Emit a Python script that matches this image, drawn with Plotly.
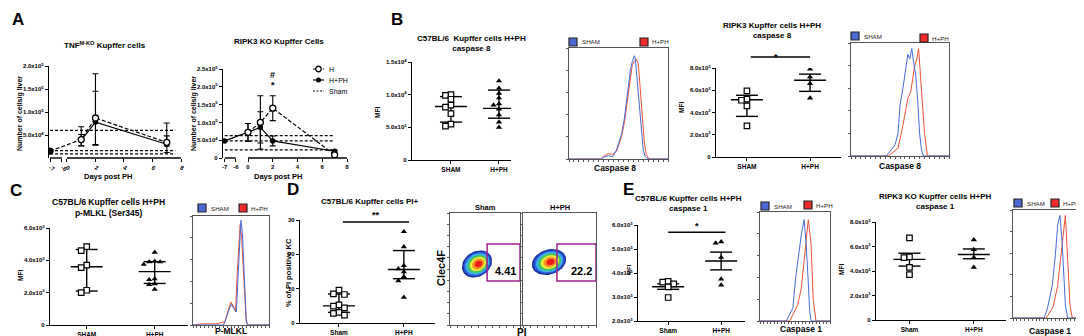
import math
import plotly.graph_objects as go

W, H = 1084, 336
FONT = "Liberation Sans, Arial, sans-serif"

# ---------------- data ----------------
# Panel A - TNF M-KO Kupffer cells (number of cells / g liver)
tnf_days_H = [-7, 1, 2, 7]
tnf_H = [1.5e4, 4.0e4, 8.7e4, 3.4e4]
tnf_H_err_plus = [0, 2.8e4, 5.8e4, 4.2e4]
tnf_H_err_minus = [0, 1.4e4, 5.8e4, 0.8e4]
tnf_days_PH = [1, 2, 7]
tnf_PH = [3.9e4, 7.8e4, 3.0e4]
tnf_PH_err_plus = [1.2e4, 1.05e5, 1.8e4]
tnf_PH_err_minus = [1.2e4, 5.0e4, 1.8e4]
tnf_sham = [6.0e4, 1.6e4, 0.9e4]

# Panel A - RIPK3 KO Kupffer cells
rip_days_H = [0, 1, 2, 7]
rip_H = [7.2e4, 1.0e5, 1.4e5, 0.9e4]
rip_H_err = [2.5e4, 7.5e4, 3.5e4, 0.3e4]
rip_days_PH = [-7, 0, 1, 2, 7]
rip_PH = [4.8e4, 7.2e4, 8.6e4, 4.8e4, 1.9e4]
rip_PH_err = [0, 2.5e4, 4.4e4, 1.4e4, 0.3e4]
rip_sham = [6.3e4, 4.8e4, 2.3e4]

days_ticks = [-7, -6, 0, 2, 4, 6, 8]

# Scatter panels: values, and (centre, upper, lower) of the summary bars
b1_sham = [10.0e3, 9.9e3, 9.3e3, 8.4e3, 8.1e3, 7.1e3, 5.5e3, 5.2e3]
b1_ph = [12.1e3, 11.0e3, 10.2e3, 9.5e3, 8.6e3, 8.4e3, 7.8e3, 6.9e3, 5.8e3, 5.0e3]
b1_stats = [(8.2e3, 9.7e3, 5.8e3), (7.9e3, 10.7e3, 6.4e3)]

b2_sham = [5.95e3, 5.2e3, 5.1e3, 4.6e3, 2.8e3]
b2_ph = [7.9e3, 7.2e3, 6.6e3, 5.3e3]
b2_stats = [(5.15e3, 5.55e3, 3.65e3), (6.9e3, 7.45e3, 5.9e3)]

c_sham = [4.85e3, 4.6e3, 3.7e3, 3.55e3, 2.15e3, 2.0e3]
c_ph = [4.5e3, 3.95e3, 3.9e3, 3.9e3, 3.75e3, 2.85e3, 2.8e3, 2.55e3, 2.5e3, 2.2e3]
c_stats = [(3.6e3, 4.67e3, 2.1e3), (3.3e3, 3.92e3, 2.57e3)]

d_sham = [9.6, 8.5, 8.3, 5.3, 4.9, 4.4, 3.1, 2.8, 2.3]
d_ph = [26.6, 22.2, 16.7, 15.8, 14.9, 13.5, 12.3, 7.5]
d_stats = [(5.0, 8.45, 3.1), (15.6, 21.1, 12.9)]

e1_sham = [3.65e3, 3.62e3, 3.55e3, 3.42e3, 2.98e3]
e1_ph = [5.3e3, 5.25e3, 4.65e3, 3.75e3, 3.5e3]
e1_stats = [(3.43e3, 3.55e3, 3.32e3), (4.5e3, 4.87e3, 4.13e3)]

e2_sham = [6.7e3, 5.15e3, 5.1e3, 4.3e3, 3.7e3]
e2_ph = [6.55e3, 5.75e3, 5.1e3, 4.3e3]
e2_stats = [(4.95e3, 5.45e3, 4.4e3), (5.35e3, 5.8e3, 5.0e3)]

# Histogram overlays (channel position 0-100, normalised count)
hb1_sham_x = [0, 32, 36, 40, 44, 48, 50, 53, 56, 59, 62, 64, 66, 67, 69, 71, 73, 75, 77, 80, 100]
hb1_sham_y = [0, 0, 0.02, 0.03, 0.02, 0.08, 0.14, 0.22, 0.37, 0.58, 0.8, 0.88, 0.93, 0.9, 0.7, 0.45, 0.25, 0.08, 0.02, 0, 0]
hb1_ph_x = [0, 32, 36, 40, 44, 48, 50, 53, 56, 59, 62, 64, 66, 68, 70, 72, 74, 76, 78, 81, 100]
hb1_ph_y = [0, 0, 0.03, 0.05, 0.04, 0.07, 0.12, 0.2, 0.33, 0.52, 0.75, 0.85, 0.88, 0.9, 0.86, 0.65, 0.42, 0.16, 0.04, 0, 0]

hb2_sham_x = [0, 36, 38, 45, 48, 50, 53, 55, 58, 60, 62, 64, 66, 68, 70, 72, 74, 100]
hb2_sham_y = [0, 0, 0.02, 0.1, 0.2, 0.45, 0.6, 0.72, 0.9, 0.86, 0.95, 0.82, 0.72, 0.5, 0.2, 0.05, 0, 0]
hb2_ph_x = [0, 38, 41, 48, 53, 58, 61, 65, 67, 69, 71, 73, 75, 78, 100]
hb2_ph_y = [0, 0, 0.02, 0.07, 0.27, 0.51, 0.57, 0.8, 0.85, 0.95, 0.7, 0.45, 0.2, 0, 0]

hc_sham_x = [0, 40, 42, 46, 50, 54, 57, 59, 62, 63, 65, 66, 68, 70, 72, 100]
hc_sham_y = [0, 0, 0.03, 0.12, 0.19, 0.15, 0.12, 0.4, 0.75, 0.96, 0.85, 0.7, 0.3, 0.05, 0, 0]
hc_ph_x = [0, 10, 30, 42, 46, 50, 54, 56, 58, 61, 62, 64, 66, 68, 70, 72, 100]
hc_ph_y = [0, 0.01, 0.01, 0.03, 0.13, 0.21, 0.16, 0.12, 0.45, 0.8, 0.92, 0.8, 0.55, 0.2, 0.03, 0, 0]

he1_sham_x = [0, 38, 40, 47, 51, 57, 59, 63, 66, 69, 71, 73, 100]
he1_sham_y = [0, 0, 0.03, 0.12, 0.4, 0.7, 0.79, 0.93, 0.7, 0.35, 0.09, 0, 0]
he1_ph_x = [0, 42, 44, 54, 59, 64, 69, 73, 76, 80, 100]
he1_ph_y = [0, 0, 0.02, 0.15, 0.3, 0.6, 0.93, 0.7, 0.2, 0, 0]

he2_sham_x = [0, 40, 42, 45, 51, 55, 58, 61, 64, 68, 71, 100]
he2_sham_y = [0, 0, 0.03, 0.1, 0.3, 0.58, 0.86, 0.95, 0.68, 0.12, 0, 0]
he2_ph_x = [0, 43, 45, 52, 58, 62, 66, 68, 70, 74, 77, 100]
he2_ph_y = [0, 0, 0.02, 0.1, 0.3, 0.58, 0.83, 0.95, 0.68, 0.12, 0, 0]

# Flow cytometry gates (PI+ gate) and percentages
gate_x0 = [5.3, 4.65]
gate_y = [3.93, 7.23]
gate_pct = ["4.41", "22.2"]

BLUE = "#4a6ad6"
RED = "#f0503a"

# ---------------- helpers ----------------
fig = go.Figure()
layout = {}
specs = {}
shapes = []
annotations = []


def ref(n):
    return ("x", "y") if n == 1 else (f"x{n}", f"y{n}")


def add_axes(n, x0, x1, ytop, ybot, xr, yr, xkw=None, ykw=None):
    specs[n] = (x0, x1, ytop, ybot, xr, yr)
    xr_, yr_ = ref(n)
    xa = dict(domain=[x0 / W, x1 / W], range=xr, anchor=yr_, showgrid=False,
              zeroline=False, fixedrange=True)
    ya = dict(domain=[1 - ybot / H, 1 - ytop / H], range=yr, anchor=xr_,
              showgrid=False, zeroline=False, fixedrange=True)
    xa.update(xkw or {})
    ya.update(ykw or {})
    layout["xaxis" if n == 1 else f"xaxis{n}"] = xa
    layout["yaxis" if n == 1 else f"yaxis{n}"] = ya


def to_paper(n, xv, yv):
    x0, x1, ytop, ybot, xr, yr = specs[n]
    px = x0 + (xv - xr[0]) / (xr[1] - xr[0]) * (x1 - x0)
    py = ybot - (yv - yr[0]) / (yr[1] - yr[0]) * (ybot - ytop)
    return px / W, 1 - py / H


def ann(x, y, text, size, bold=True, xanchor="center", yanchor="middle",
        angle=0, color="black"):
    annotations.append(dict(
        x=x / W, y=1 - y / H, xref="paper", yref="paper", text=text,
        showarrow=False, xanchor=xanchor, yanchor=yanchor, textangle=angle,
        font=dict(size=size, family=FONT, color=color,
                  weight="bold" if bold else "normal")))


def sci(v):
    if v == 0:
        return "0"
    e = int(math.floor(math.log10(v) + 1e-9))
    m = v / 10 ** e
    return f"{m:.1f}x10<sup>{e}</sup>"


def tickfont(size):
    return dict(size=size, family=FONT, color="black", weight="bold")


def scatter_axis_kw(cats, yticks, plain=False):
    xkw = dict(showline=True, linecolor="black", linewidth=1.4, ticks="outside",
               ticklen=3, tickwidth=1.2, tickcolor="black", tickvals=[0, 1],
               ticktext=cats, tickfont=tickfont(6.5))
    ykw = dict(showline=True, linecolor="black", linewidth=1.4, ticks="outside",
               ticklen=3, tickwidth=1.2, tickcolor="black", tickvals=yticks,
               ticktext=[str(int(t)) if plain else sci(t) for t in yticks],
               tickfont=tickfont(6))
    return xkw, ykw


def swarm(vals, n, step_px=5.5, thr=0.045):
    x0, x1, ytop, ybot, xr, yr = specs[n]
    step = step_px * (xr[1] - xr[0]) / (x1 - x0)
    span = yr[1] - yr[0]
    placed = []
    offs = []
    for v in vals:
        for k in [0, -1, 1, -2, 2, -3, 3]:
            if all(not (abs(v - pv) < thr * span and pk == k) for pv, pk in placed):
                break
        placed.append((v, k))
        offs.append(k * step)
    return offs


def scatter_panel(n, sham, ph, stats):
    xa, ya = ref(n)
    x0, x1, ytop, ybot, xr, yr = specs[n]
    upx = (xr[1] - xr[0]) / (x1 - x0)
    hw, cw = 16 * upx, 11 * upx
    xs, ys = [], []
    for c, (m, hi, lo) in enumerate(stats):
        xs += [c - hw, c + hw, None, c - cw, c + cw, None, c - cw, c + cw, None, c, c, None]
        ys += [m, m, None, hi, hi, None, lo, lo, None, hi, lo, None]
    fig.add_trace(go.Scatter(x=xs, y=ys, mode="lines", xaxis=xa, yaxis=ya,
                             line=dict(color="black", width=1.4),
                             hoverinfo="skip", showlegend=False))
    o = swarm(sham, n)
    fig.add_trace(go.Scatter(x=[0 + d for d in o], y=sham, mode="markers",
                             xaxis=xa, yaxis=ya, showlegend=False,
                             marker=dict(symbol="square", size=5.5, color="white",
                                         line=dict(color="black", width=1.2))))
    o = swarm(ph, n)
    fig.add_trace(go.Scatter(x=[1 + d for d in o], y=ph, mode="markers",
                             xaxis=xa, yaxis=ya, showlegend=False,
                             marker=dict(symbol="triangle-up", size=5.5, color="black")))


def hist_axes(n, x0, x1, ytop, ybot):
    kw = dict(showline=True, mirror=True, linecolor="#555", linewidth=1,
              ticks="outside", ticklen=2, tickcolor="#555", showticklabels=False)
    xkw = dict(kw, dtick=5)
    ykw = dict(kw, dtick=0.2)
    add_axes(n, x0, x1, ytop, ybot, [0, 100], [0, 1.0], xkw, ykw)


def hist_curves(n, sx, sy, px_, py_):
    xa, ya = ref(n)
    fig.add_trace(go.Scatter(x=px_, y=py_, mode="lines", xaxis=xa, yaxis=ya,
                             line=dict(color=RED, width=1), showlegend=False,
                             hoverinfo="skip"))
    fig.add_trace(go.Scatter(x=sx, y=sy, mode="lines", xaxis=xa, yaxis=ya,
                             line=dict(color=BLUE, width=1), showlegend=False,
                             hoverinfo="skip"))


# ---------------- Panel A ----------------
def brk(d, a7, a6):
    return d if d >= 0 else a7 + (d + 7) * (a6 - a7)


A1 = (-1.19, -0.35)
A2 = (-1.88, -0.98)

for n, (x0, x1, ytop, ybot, xr, yr, bk, yt) in {
    1: (41, 173, 58, 150, [-1.26, 8], [0, 2.0e5], A1, [5e4, 1e5, 1.5e5, 2e5]),
    2: (215, 339, 61, 150, [-2.02, 8], [0, 2.5e5], A2, [0, 5e4, 1e5, 1.5e5, 2e5, 2.5e5]),
}.items():
    xkw = dict(showline=False, ticks="outside", ticklen=3, tickwidth=1.2,
               tickcolor="black",
               tickvals=[brk(d, *bk) for d in days_ticks],
               ticktext=[str(d) for d in days_ticks], tickfont=tickfont(6))
    ykw = dict(showline=True, linecolor="black", linewidth=1.4, ticks="outside",
               ticklen=3, tickwidth=1.2, tickcolor="black", tickvals=yt,
               ticktext=[sci(t) for t in yt], tickfont=tickfont(6))
    add_axes(n, x0, x1, ytop, ybot, xr, yr, xkw, ykw)
    for a, b in [(-7, -6), (0, 8)]:
        pa = to_paper(n, brk(a, *bk), 0)
        pb = to_paper(n, brk(b, *bk), 0)
        shapes.append(dict(type="line", xref="paper", yref="paper", x0=pa[0],
                           x1=pb[0], y0=pa[1], y1=pb[1],
                           line=dict(color="black", width=1.4)))


def a_traces(n, bk, dH, vH, eHp, eHm, dP, vP, ePp, ePm, sham, sham_end, h_first_filled):
    xa, ya = ref(n)
    sx, sy = [], []
    for s in sham:
        sx += [brk(-7, *bk), sham_end, None]
        sy += [s, s, None]
    fig.add_trace(go.Scatter(x=sx, y=sy, mode="lines", xaxis=xa, yaxis=ya,
                             line=dict(color="black", width=1.2, dash="3px,2px"),
                             showlegend=False, hoverinfo="skip"))
    fig.add_trace(go.Scatter(
        x=[brk(d, *bk) for d in dP], y=vP, mode="lines+markers", xaxis=xa, yaxis=ya,
        line=dict(color="black", width=1.2),
        marker=dict(symbol="circle", size=5.5, color="black"),
        error_y=dict(type="data", array=ePp, arrayminus=ePm, color="black",
                     thickness=1.1, width=3), showlegend=False))
    cols = ["white"] * len(dH)
    if h_first_filled:
        cols[0] = "black"
    fig.add_trace(go.Scatter(
        x=[brk(d, *bk) for d in dH], y=vH, mode="lines+markers", xaxis=xa, yaxis=ya,
        line=dict(color="black", width=1.2, dash="4px,2px"),
        marker=dict(symbol="circle", size=6, color=cols,
                    line=dict(color="black", width=1.3)),
        error_y=dict(type="data", array=eHp, arrayminus=eHm, color="black",
                     thickness=1.1, width=3), showlegend=False))


a_traces(1, A1, tnf_days_H, tnf_H, tnf_H_err_plus, tnf_H_err_minus,
         tnf_days_PH, tnf_PH, tnf_PH_err_plus, tnf_PH_err_minus, tnf_sham, 7.6, True)
a_traces(2, A2, rip_days_H, rip_H, rip_H_err, rip_H_err,
         rip_days_PH, rip_PH, rip_PH_err, rip_PH_err, rip_sham, 7.0, False)

annotations.append(dict(x=2, y=2.33e5, xref="x2", yref="y2", text="#", showarrow=False,
                        font=dict(size=9, family=FONT, color="black", weight="bold")))
annotations.append(dict(x=2, y=2.06e5, xref="x2", yref="y2", text="*", showarrow=False,
                        font=dict(size=9, family=FONT, color="black", weight="bold")))

# ---------------- scatter panels ----------------
panels = [
    (3, 404, 503, 54, 152, [-0.81, 1.25], [0, 1.5e4], ["SHAM", "H+PH"], [0, 5e3, 1e4, 1.5e4], False, b1_sham, b1_ph, b1_stats),
    (5, 708, 833, 60, 149, [-0.49, 1.49], [0, 8e3], ["SHAM", "H+PH"], [0, 2e3, 4e3, 6e3, 8e3], False, b2_sham, b2_ph, b2_stats),
    (7, 42, 180, 220, 317, [-0.54, 1.49], [0, 6e3], ["SHAM", "H+PH"], [0, 2e3, 4e3, 6e3], False, c_sham, c_ph, c_stats),
    (9, 292, 427, 212, 315, [-0.6, 1.48], [0, 30], ["Sham", "H+PH"], [0, 10, 20, 30], True, d_sham, d_ph, d_stats),
    (12, 630, 737, 217, 313, [-0.57, 1.45], [2000, 6000], ["Sham", "H+PH"], [2e3, 3e3, 4e3, 5e3, 6e3], False, e1_sham, e1_ph, e1_stats),
    (14, 868, 998, 214, 312, [-0.52, 1.5], [0, 8e3], ["Sham", "H+PH"], [0, 2e3, 4e3, 6e3, 8e3], False, e2_sham, e2_ph, e2_stats),
]
for (n, x0, x1, yt_, yb_, xr, yr, cats, yticks, plain, s, p, st) in panels:
    xkw, ykw = scatter_axis_kw(cats, yticks, plain)
    add_axes(n, x0, x1, yt_, yb_, xr, yr, xkw, ykw)
    scatter_panel(n, s, p, st)

# significance bars
for n, xa_, xb_, yv, ys, txt in [(5, 0.06, 1.0, 8.99e3, 9.6e3, "*"),
                                 (9, 0.06, 1.08, 29.4, 31.4, "**"),
                                 (12, 0.0, 1.08, 5.7e3, 5.95e3, "*")]:
    pa = to_paper(n, xa_, yv)
    pb = to_paper(n, xb_, yv)
    shapes.append(dict(type="line", xref="paper", yref="paper", x0=pa[0], x1=pb[0],
                       y0=pa[1], y1=pb[1], line=dict(color="black", width=1.4)))
    pt = to_paper(n, (xa_ + xb_) / 2, ys)
    annotations.append(dict(x=pt[0], y=pt[1], xref="paper", yref="paper", text=txt,
                            showarrow=False, font=dict(size=9, family=FONT,
                                                       color="black", weight="bold")))

# ---------------- histograms ----------------
hist_axes(4, 561, 660, 40, 151)
hist_curves(4, hb1_sham_x, hb1_sham_y, hb1_ph_x, hb1_ph_y)
hist_axes(6, 843, 941, 35, 148)
hist_curves(6, hb2_sham_x, hb2_sham_y, hb2_ph_x, hb2_ph_y)
hist_axes(8, 185, 261, 208, 317)
hist_curves(8, hc_sham_x, hc_sham_y, hc_ph_x, hc_ph_y)
hist_axes(13, 752, 822, 204, 313)
hist_curves(13, he1_sham_x, he1_sham_y, he1_ph_x, he1_ph_y)
hist_axes(15, 1005, 1082, 202, 310)
hist_curves(15, he2_sham_x, he2_sham_y, he2_ph_x, he2_ph_y)

# ---------------- flow plots (panel D) ----------------
flow_boxes = {10: (442, 512, 205, 317), 11: (515, 588, 205, 317)}
blob_colors = ["#1c2f9e", "#2a62dc", "#3fb2ee", "#3fc45a", "#ecec3c", "#f49028", "#ec1c1c"]
blob_scale = [1.0, 0.9, 0.79, 0.67, 0.54, 0.4, 0.25]
blob_geom = {10: (469, 256, 16, 12.5, 32), 11: (541, 254, 17.5, 12.5, 18)}

for i, n in enumerate([10, 11]):
    x0, x1, ytop, ybot = flow_boxes[n]
    kw = dict(showline=True, mirror=True, linecolor="#555", linewidth=1,
              ticks="outside", ticklen=2, tickcolor="#555", showticklabels=False,
              dtick=1)
    add_axes(n, x0, x1, ytop, ybot, [0, 10], [0, 10], dict(kw), dict(kw))
    xa, ya = ref(n)
    cx, cy, a, b, ang = blob_geom[n]
    th = math.radians(ang)
    for col, sc in zip(blob_colors, blob_scale):
        ex, ey = [], []
        shift = (1 - sc) * 2.0
        for k in range(49):
            t = 2 * math.pi * k / 48
            u = a * sc * math.cos(t)
            v = b * sc * math.sin(t)
            pxx = cx + shift + u * math.cos(th) - v * math.sin(th)
            pyy = cy - (u * math.sin(th) + v * math.cos(th))
            ex.append((pxx - x0) / (x1 - x0) * 10)
            ey.append((ybot - pyy) / (ybot - ytop) * 10)
        fig.add_trace(go.Scatter(x=ex, y=ey, mode="lines", fill="toself",
                                 fillcolor=col, line=dict(width=0, color=col),
                                 xaxis=xa, yaxis=ya, showlegend=False,
                                 hoverinfo="skip"))
    shapes.append(dict(type="rect", xref=xa, yref=ya, x0=gate_x0[i], x1=10,
                       y0=gate_y[0], y1=gate_y[1],
                       line=dict(color="#a3218f", width=1.5)))
    annotations.append(dict(x=9.7, y=gate_y[0] + 0.15, xref=xa, yref=ya,
                            text=gate_pct[i], showarrow=False, xanchor="right",
                            yanchor="bottom",
                            font=dict(size=11, family=FONT, color="black",
                                      weight="bold")))

# ---------------- pixel overlay (legends) ----------------
PX = 99
add_axes(PX, 0, W, 0, H, [0, W], [H, 0], dict(visible=False), dict(visible=False))
xa, ya = ref(PX)
# legend of panel A
fig.add_trace(go.Scatter(x=[305, 316], y=[61, 61], mode="lines", xaxis=xa, yaxis=ya,
                         line=dict(color="black", width=1.2, dash="3px,2px"),
                         showlegend=False, hoverinfo="skip"))
fig.add_trace(go.Scatter(x=[310.5], y=[61], mode="markers", xaxis=xa, yaxis=ya,
                         marker=dict(symbol="circle", size=5.5, color="white",
                                     line=dict(color="black", width=1.3)),
                         showlegend=False, hoverinfo="skip"))
fig.add_trace(go.Scatter(x=[305, 316], y=[72, 72], mode="lines", xaxis=xa,
                         yaxis=ya, line=dict(color="black", width=1.2),
                         showlegend=False, hoverinfo="skip"))
fig.add_trace(go.Scatter(x=[310.5], y=[72], mode="markers", xaxis=xa, yaxis=ya,
                         marker=dict(symbol="circle", size=5, color="black"),
                         showlegend=False, hoverinfo="skip"))
fig.add_trace(go.Scatter(x=[305, 316], y=[83, 83], mode="lines", xaxis=xa, yaxis=ya,
                         line=dict(color="black", width=1.2, dash="2px,1.5px"),
                         showlegend=False, hoverinfo="skip"))
for yy, t in [(61, "H"), (72, "H+PH"), (83, "Sham")]:
    ann(319, yy, t, 7, bold=False, xanchor="left")

# histogram legends: (blue square centre, red square centre)
hist_leg = [((565, 34), (636, 34)), ((847, 28), (916, 30)), ((194, 200), (235, 200)),
            ((757, 198), (800, 197)), ((1010, 195), (1047, 195))]
for (bx, by), (rx, ry) in hist_leg:
    fig.add_trace(go.Scatter(x=[bx, rx], y=[by, ry], mode="markers", xaxis=xa, yaxis=ya,
                             marker=dict(symbol="square", size=8, color=[BLUE, "#f52a2a"],
                                         line=dict(color="#222", width=1.2)),
                             showlegend=False, hoverinfo="skip"))
    ann(bx + 7, by, "SHAM", 6.2, bold=False, xanchor="left", color="#222")
    ann(rx + 6, ry, "H+PH", 6.2, bold=False, xanchor="left", color="#222")

# ---------------- text ----------------
for x, y, t in [(10, 12, "A"), (389, 12, "B"), (8, 182, "C"), (285, 181, "D"), (620, 181, "E")]:
    ann(x, y, t, 17)

ann(97, 37, "TNF<sup>M-KO</sup> Kupffer cells", 8)
ann(271, 34, "RIPK3 KO Kupffer Cells", 8)
ann(463, 36, "C57BL/6  Kupffer cells H+PH<br>caspase 8", 8)
ann(764, 23, "RIPK3 Kupffer cells H+PH<br>caspase 8", 8)
ann(100, 199, "C57BL/6 Kupffer cells H+PH<br>p-MLKL (Ser345)", 8.5)
ann(362, 193, "C57BL/6 Kupffer cells PI+", 8)
ann(680, 195, "C57BL/6 Kupffer cells H+PH<br>caspase 1", 8)
ann(927, 194, "RIPK3 KO Kupffer cells H+PH<br>caspase 1", 8)

ann(12, 106, "Number of cells/g liver", 7, angle=-90)
ann(186, 106, "Number of cells/g liver", 7, angle=-90)
ann(100, 168, "Days post PH", 7.5)
ann(270, 168, "Days post PH", 7.5)
ann(369, 105, "MFI", 6.5, angle=-90)
ann(673, 100, "MFI", 6.5, angle=-90)
ann(12, 268, "MFI", 6.5, angle=-90)
ann(621, 262, "MFI", 6, angle=-90)
ann(833, 262, "MFI", 6.5, angle=-90)
ann(280, 265, "% of PI positive KC", 7.5, angle=-90)

ann(607, 160, "Caspase 8", 8.5)
ann(892, 158, "Caspase 8", 8.5)
ann(223, 323, "P-MLKL", 8.5)
ann(793, 321, "Caspase 1", 8.5)
ann(1042, 323, "Caspase 1", 8.5)

ann(477, 199, "Sham", 7.5)
ann(552, 199, "H+PH", 7.5)
ann(433, 260, "Clec4F", 11, angle=-90)
ann(514, 324, "PI", 10)

fig.update_layout(
    width=W, height=H, margin=dict(l=0, r=0, t=0, b=0),
    paper_bgcolor="white", plot_bgcolor="rgba(0,0,0,0)",
    showlegend=False, template="none",
    font=dict(family=FONT, color="black"),
    shapes=shapes, annotations=annotations, **layout)

fig.write_html("out.html")
